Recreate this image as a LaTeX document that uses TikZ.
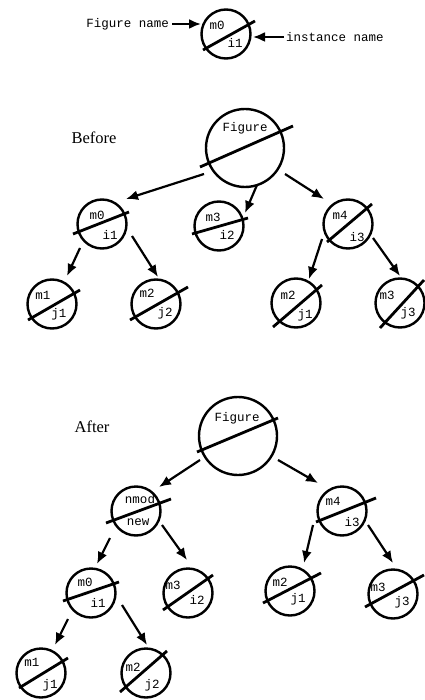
\documentclass[tikz,border=0pt]{standalone}
\usepackage{fontspec}
\usetikzlibrary{arrows.meta}
\newfontfamily\monofnt{Liberation Mono}
\newfontfamily\serifnt{Liberation Serif}
\tikzset{
  circ/.style={circle, draw, line width=2.4pt, inner sep=0pt, minimum size=49pt},
  bigcirc/.style={circ, minimum size=78pt},
  slash/.style={line width=2.8pt},
  arr/.style={line width=2.2pt, -{Latex[length=12pt,width=10pt]}},
  lbl/.style={font=\monofnt\fontsize{12.5}{14}\selectfont, inner sep=0pt},
  ttl/.style={font=\serifnt\fontsize{16.5}{18}\selectfont, inner sep=0pt}
}
\begin{document}
\begin{tikzpicture}[x=1pt,y=-1pt]
\useasboundingbox (0,0) rectangle (424,700);

% ---------------- legend ----------------
\node[circ] (lg) at (226,34) {};
\draw[slash] ([shift={(-23,16)}]lg.center) -- ([shift={(29,-13)}]lg.center);
\node[lbl] (lgt) at ([shift={(-9,-9)}]lg.center) {m0};
\node[lbl] (lgb) at ([shift={(9,9)}]lg.center) {i1};
\node[lbl, anchor=east] (lgfn) at (169,24) {Figure name};
\node[lbl, anchor=west] (lgin) at (286,37) {instance name};
\draw[arr, shorten <=3pt] (lgfn.east) -- ([shift={(-25,-10)}]lg.center);
\draw[arr, shorten <=2pt] (lgin.west) -- ([shift={(27,3)}]lg.center);

% ---------------- before ----------------
\node[ttl] (before) at (94,138) {Before};

\node[bigcirc] (bf) at (245,148) {};
\draw[slash] ([shift={(-45,19)}]bf.center) -- ([shift={(48,-22)}]bf.center);
\node[lbl] (bft) at ([shift={(0,-20)}]bf.center) {Figure};

\node[circ] (bm0) at (102,224) {};
\draw[slash] ([shift={(-29,10)}]bm0.center) -- ([shift={(27,-12)}]bm0.center);
\node[lbl] (bm0t) at ([shift={(-5,-9)}]bm0.center) {m0};
\node[lbl] (bm0b) at ([shift={(8,11)}]bm0.center) {i1};

\node[circ] (bm3) at (219,226) {};
\draw[slash] ([shift={(-27,8)}]bm3.center) -- ([shift={(29,-8)}]bm3.center);
\node[lbl] (bm3t) at ([shift={(-6,-9)}]bm3.center) {m3};
\node[lbl] (bm3b) at ([shift={(8,9)}]bm3.center) {i2};

\node[circ] (bm4) at (348,224) {};
\draw[slash] ([shift={(-21,18)}]bm4.center) -- ([shift={(24,-20)}]bm4.center);
\node[lbl] (bm4t) at ([shift={(-8,-9)}]bm4.center) {m4};
\node[lbl] (bm4b) at ([shift={(9,13)}]bm4.center) {i3};

\node[circ] (bm1) at (52,304) {};
\draw[slash] ([shift={(-24,16)}]bm1.center) -- ([shift={(28,-14)}]bm1.center);
\node[lbl] (bm1t) at ([shift={(-9,-9)}]bm1.center) {m1};
\node[lbl] (bm1b) at ([shift={(7,10)}]bm1.center) {j1};

\node[circ] (bm2) at (156,304) {};
\draw[slash] ([shift={(-26,16)}]bm2.center) -- ([shift={(32,-17)}]bm2.center);
\node[lbl] (bm2t) at ([shift={(-9,-11)}]bm2.center) {m2};
\node[lbl] (bm2b) at ([shift={(9,9)}]bm2.center) {j2};

\node[circ] (bm2r) at (296,303) {};
\draw[slash] ([shift={(-23,24)}]bm2r.center) -- ([shift={(26,-18)}]bm2r.center);
\node[lbl] (bm2rt) at ([shift={(-8,-8)}]bm2r.center) {m2};
\node[lbl] (bm2rb) at ([shift={(9,12)}]bm2r.center) {j1};

\node[circ] (bm3r) at (400,303) {};
\draw[slash] ([shift={(-20,25)}]bm3r.center) -- ([shift={(24,-23)}]bm3r.center);
\node[lbl] (bm3rt) at ([shift={(-13,-8)}]bm3r.center) {m3};
\node[lbl] (bm3rb) at ([shift={(8,10)}]bm3r.center) {j3};

\draw[arr] ([shift={(-41,26)}]bf.center) -- ([shift={(24,-25)}]bm0.center);
\draw[arr] ([shift={(12,37)}]bf.center) -- ([shift={(26,-13)}]bm3.center);
\draw[arr] ([shift={(40,26)}]bf.center) -- ([shift={(-24,-25)}]bm4.center);
\draw[arr] ([shift={(-22,24)}]bm0.center) -- ([shift={(15,-28)}]bm1.center);
\draw[arr] ([shift={(30,12)}]bm0.center) -- ([shift={(2,-27)}]bm2.center);
\draw[arr] ([shift={(-26,15)}]bm4.center) -- ([shift={(13,-24)}]bm2r.center);
\draw[arr] ([shift={(25,14)}]bm4.center) -- ([shift={(0,-27)}]bm3r.center);

% ---------------- after ----------------
\node[ttl] (after) at (92,427) {After};

\node[bigcirc] (af) at (238,436) {};
\draw[slash] ([shift={(-41,16)}]af.center) -- ([shift={(40,-18)}]af.center);
\node[lbl] (aft) at ([shift={(-1,-18)}]af.center) {Figure};

\node[circ] (anm) at (136,511) {};
\draw[slash] ([shift={(-30,12)}]anm.center) -- ([shift={(35,-12)}]anm.center);
\node[lbl] (anmt) at ([shift={(4,-12)}]anm.center) {nmod};
\node[lbl] (anmb) at ([shift={(2,11)}]anm.center) {new};

\node[circ] (am4) at (342,511) {};
\draw[slash] ([shift={(-26,11)}]am4.center) -- ([shift={(34,-13)}]am4.center);
\node[lbl] (am4t) at ([shift={(-9,-10)}]am4.center) {m4};
\node[lbl] (am4b) at ([shift={(10,11)}]am4.center) {i3};

\node[circ] (am0) at (91,593) {};
\draw[slash] ([shift={(-28,8)}]am0.center) -- ([shift={(28,-11)}]am0.center);
\node[lbl] (am0t) at ([shift={(-6,-11)}]am0.center) {m0};
\node[lbl] (am0b) at ([shift={(7,10)}]am0.center) {i1};

\node[circ] (am3) at (188,593) {};
\draw[slash] ([shift={(-25,17)}]am3.center) -- ([shift={(25,-18)}]am3.center);
\node[lbl] (am3t) at ([shift={(-15,-8)}]am3.center) {m3};
\node[lbl] (am3b) at ([shift={(9,7)}]am3.center) {i2};

\node[circ] (am2r) at (290,591) {};
\draw[slash] ([shift={(-27,12)}]am2r.center) -- ([shift={(31,-18)}]am2r.center);
\node[lbl] (am2rt) at ([shift={(-10,-9)}]am2r.center) {m2};
\node[lbl] (am2rb) at ([shift={(8,8)}]am2r.center) {j1};

\node[circ] (am3r) at (393,594) {};
\draw[slash] ([shift={(-28,13)}]am3r.center) -- ([shift={(31,-19)}]am3r.center);
\node[lbl] (am3rt) at ([shift={(-15,-7)}]am3r.center) {m3};
\node[lbl] (am3rb) at ([shift={(9,8)}]am3r.center) {j3};

\node[circ] (am1) at (41,673) {};
\draw[slash] ([shift={(-22,15)}]am1.center) -- ([shift={(27,-15)}]am1.center);
\node[lbl] (am1t) at ([shift={(-9,-11)}]am1.center) {m1};
\node[lbl] (am1b) at ([shift={(9,12)}]am1.center) {j1};

\node[circ] (am2) at (146,673) {};
\draw[slash] ([shift={(-26,19)}]am2.center) -- ([shift={(21,-22)}]am2.center);
\node[lbl] (am2t) at ([shift={(-13,-6)}]am2.center) {m2};
\node[lbl] (am2b) at ([shift={(6,12)}]am2.center) {j2};

\draw[arr] ([shift={(-38,24)}]af.center) -- ([shift={(23,-24)}]anm.center);
\draw[arr] ([shift={(40,24)}]af.center) -- ([shift={(-24,-28)}]am4.center);
\draw[arr] ([shift={(-26,27)}]anm.center) -- ([shift={(6,-29)}]am0.center);
\draw[arr] ([shift={(26,14)}]anm.center) -- ([shift={(-1,-33)}]am3.center);
\draw[arr] ([shift={(-29,14)}]am4.center) -- ([shift={(14,-28)}]am2r.center);
\draw[arr] ([shift={(26,14)}]am4.center) -- ([shift={(0,-31)}]am3r.center);
\draw[arr] ([shift={(-23,26)}]am0.center) -- ([shift={(14,-28)}]am1.center);
\draw[arr] ([shift={(31,12)}]am0.center) -- ([shift={(1,-28)}]am2.center);
\end{tikzpicture}
\end{document}
